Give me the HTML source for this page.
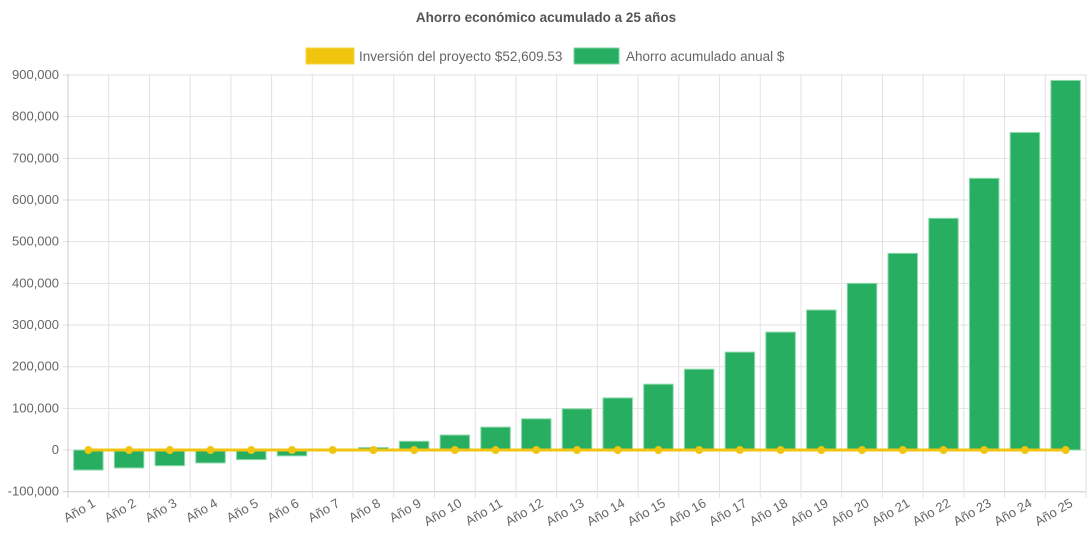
<!DOCTYPE html>
<html><head><meta charset="utf-8"><style>
html,body{margin:0;padding:0;background:#fff}
svg{display:block;font-family:"Liberation Sans",Arial,sans-serif}
</style></head><body>
<svg id="chart" width="1092" height="545">
<text x="546" y="22" text-anchor="middle" font-size="13.5" font-weight="bold" fill="#555">Ahorro económico acumulado a 25 años</text>
<g>
<rect x="306" y="48" width="48" height="16" fill="#f1c40f" stroke="#f5d742"/>
<text x="359" y="61" font-size="13.5" fill="#666">Inversión del proyecto $52,609.53</text>
</g>
<g>
<rect x="574" y="48" width="45" height="16" fill="#27ae60" stroke="#7fd4a2"/>
<text x="626" y="61" font-size="13.5" fill="#666">Ahorro acumulado anual $</text>
</g>
<g id="grid"></g><g id="bars"></g><g id="line"></g><g id="labels"></g>
</svg>
<script>
const categories = Array.from({length:25},(_,i)=>'Año '+(i+1));
const savings = [-48000,-43000,-37600,-31000,-23000,-14000,-1500,6000,21000,36000,55000,75000,99000,125000,158000,194000,235000,283000,336000,400000,472000,556000,652000,762000,887000];
const investment = Array(25).fill(0);
const yTicks = [-100000,0,100000,200000,300000,400000,500000,600000,700000,800000,900000];
const yTickLabels = ['-100,000','0','100,000','200,000','300,000','400,000','500,000','600,000','700,000','800,000','900,000'];

const L=68,R=1086,yMin=-100000,yMax=900000,T=75,B=491.7;
const NS='http://www.w3.org/2000/svg';
const bw=(R-L)/categories.length;
const x=i=>L+bw*(i+0.5);
const y=v=>B-(v-yMin)/(yMax-yMin)*(B-T);
function mk(tag,attrs,parent){const e=document.createElementNS(NS,tag);for(const k in attrs)e.setAttribute(k,attrs[k]);document.getElementById(parent).appendChild(e);return e;}

yTicks.forEach((t,i)=>{
  const g=mk('line',{x1:L-5,x2:R,y1:y(t),y2:y(t),stroke:i===0?'#ccc':'#e2e2e2','stroke-width':1},'grid');
  
  
  const tx=mk('text',{x:L-9,y:y(t)+4,'text-anchor':'end','font-size':13,fill:'#666'},'labels');
  tx.textContent=yTickLabels[i];
  
  
});
for(let i=0;i<=categories.length;i++){
  const gx=L+bw*i;
  const g=mk('line',{x1:gx,x2:gx,y1:T-1,y2:B+6,stroke:i===0?'#ccc':'#e2e2e2','stroke-width':1},'grid');
  
  
}
categories.forEach((c,i)=>{
  const v=savings[i];const y0=y(0),y1=y(v);
  const r=mk('rect',{x:x(i)-14.75,width:29.5,y:Math.min(y0,y1),height:Math.max(1,Math.abs(y1-y0)),fill:'#27ae60',stroke:'#8fd9ad','stroke-width':1},'bars');
  
  
  const tx=mk('text',{x:x(i)+8,y:B+14,'text-anchor':'end','font-size':13,fill:'#666',transform:`rotate(-30 ${x(i)+8} ${B+14})`},'labels');
  tx.textContent=c;
  
  
});
const pl=mk('polyline',{points:investment.map((v,i)=>x(i)+','+y(v)).join(' '),fill:'none',stroke:'#f1c40f','stroke-width':3},'line');


investment.forEach((v,i)=>{
  const p=mk('circle',{cx:x(i),cy:y(v),r:4,fill:'#f1c40f'},'line');
  
  
});
</script>
</body></html>
